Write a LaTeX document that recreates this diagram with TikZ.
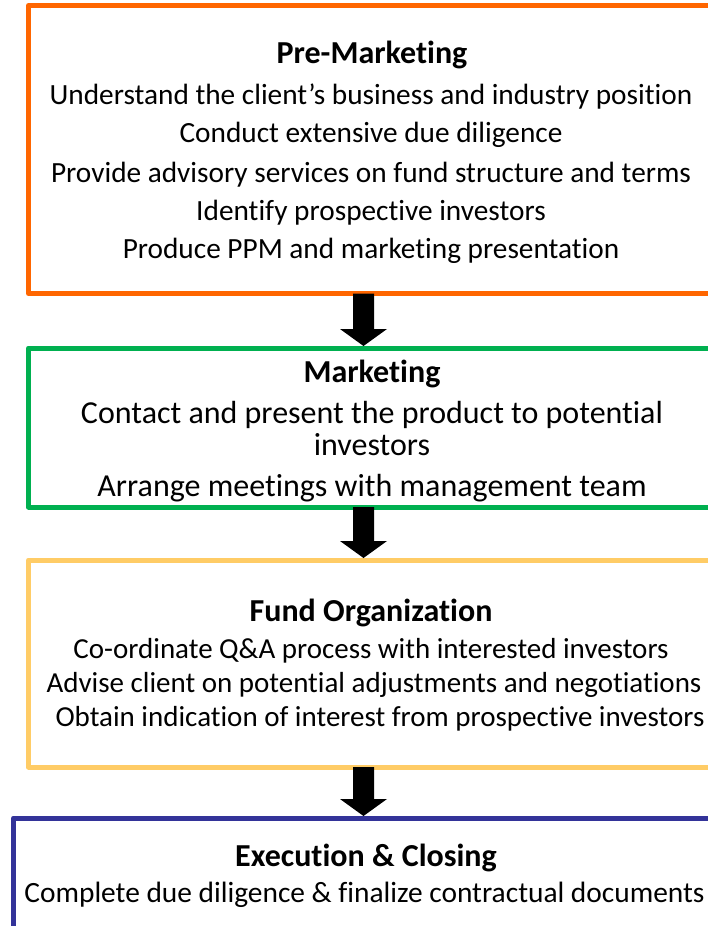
\documentclass[tikz,border=0pt]{standalone}
\usepackage{fontspec}
\setmainfont{Carlito}[Ligatures={NoCommon,NoContextual}]
\usetikzlibrary{calc}
\definecolor{cOrange}{RGB}{255,102,0}
\definecolor{cGreen}{RGB}{0,176,80}
\definecolor{cYellow}{RGB}{255,204,102}
\definecolor{cBlue}{RGB}{51,51,153}
\tikzset{
  stagebox/.style={draw, line width=5pt, line join=round, rectangle, inner sep=0pt, outer sep=0pt, fill=none},
  ttl/.style={anchor=base, inner sep=0pt, font=\fontsize{#1}{#1}\selectfont\bfseries},
  txt/.style={anchor=base, inner sep=0pt, font=\fontsize{#1}{#1}\selectfont},
  blockarrow/.style={fill=black}
}
\newcommand{\flowarrow}[2]{%
  \fill[blockarrow] let \p1=(#1.south -| ax), \p2=(#2.north -| ax) in
    (\x1-10.5pt,\y1) -- (\x1+10.5pt,\y1) -- (\x1+10.5pt,\y2+19pt) -- (\x1+23.5pt,\y2+19pt)
    -- (\x1,\y2+2pt) -- (\x1-23.5pt,\y2+19pt) -- (\x1-10.5pt,\y2+19pt) -- cycle;}
\begin{document}
\begin{tikzpicture}[x=1pt,y=-1pt]
\useasboundingbox (0,0) rectangle (708,926);
\clip (0,0) rectangle (708,926);
\coordinate (ax) at (363.5,0);
% boxes
\node[stagebox, draw=cOrange, minimum width=711.5pt, minimum height=288pt] (pm) at (384.25,149.5) {};
\node[stagebox, draw=cGreen, minimum width=711.5pt, minimum height=159pt] (mk) at (384.25,427.5) {};
\node[stagebox, draw=cYellow, minimum width=711.5pt, minimum height=207pt] (fo) at (384.25,663.5) {};
\node[stagebox, draw=cBlue, minimum width=726.5pt, minimum height=142pt] (ec) at (376.75,889) {};
% arrows
\flowarrow{pm}{mk}
\flowarrow{mk}{fo}
\flowarrow{fo}{ec}
% Pre-Marketing
\node[ttl=32] (t1) at (372,63) {Pre-Marketing};
\node[txt=29.3] (t1a) at (371,104) {Understand the client’s business and industry position};
\node[txt=29.3] (t1b) at (371,142) {Conduct extensive due diligence};
\node[txt=29.3] (t1c) at (371,182) {Provide advisory services on fund structure and terms};
\node[txt=29.3] (t1d) at (371,220) {Identify prospective investors};
\node[txt=29.3] (t1e) at (371,258) {Produce PPM and marketing presentation};
% Marketing
\node[ttl=32] (t2) at (372,382) {Marketing};
\node[txt=32] (t2a) at (372,423) {Contact and present the product to potential};
\node[txt=32] (t2b) at (372,455) {investors};
\node[txt=32] (t2c) at (372,496) {Arrange meetings with management team};
% Fund Organization
\node[ttl=32] (t3) at (371,621) {Fund Organization};
\node[txt=29] (t3a) at (371,658) {Co-ordinate Q\&A process with interested investors};
\node[txt=29] (t3b) at (374,692) {Advise client on potential adjustments and negotiations};
\node[txt=29] (t3c) at (380,726) {Obtain indication of interest from prospective investors};
% Execution & Closing
\node[ttl=32] (t4) at (366,866) {Execution \& Closing};
\node[txt=29.4] (t4a) at (364.5,902) {Complete due diligence \& finalize contractual documents};
\end{tikzpicture}
\end{document}
